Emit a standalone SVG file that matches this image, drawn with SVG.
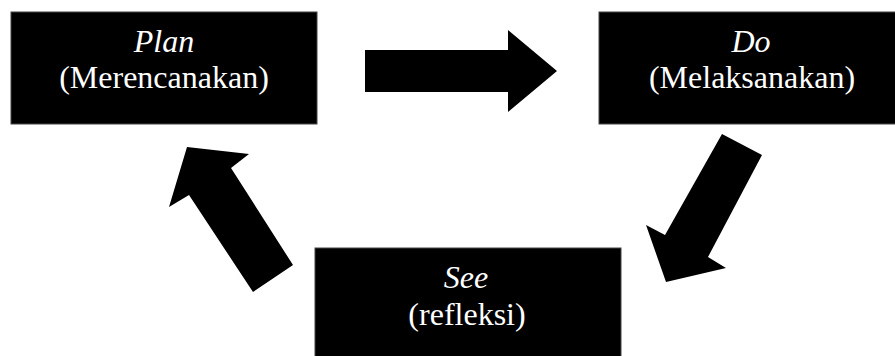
<svg xmlns="http://www.w3.org/2000/svg" width="895" height="356" viewBox="0 0 895 356">
  <style>
    .box { fill: #000; stroke: #444; stroke-width: 1; }
    .label { font-family: "Liberation Serif", "Noto Serif", "FreeSerif", "DejaVu Serif", Georgia, serif; font-size: 32px; fill: #fff; text-anchor: middle; }
    .it { font-style: italic; }
    .arrow { fill: #000; }
  </style>
  <rect width="895" height="356" fill="#fff"/>

  <g id="connectors">
    <!-- Plan to Do -->
    <polygon class="arrow" points="365,50 508,50 508,30 557,71 508,112 508,92 365,92"/>
    <!-- Do to See -->
    <polygon class="arrow" points="722,134 762,155 708,257 726,268 666,282 646,225 665,235"/>
    <!-- See to Plan -->
    <polygon class="arrow" points="187,147 249,154 231,168 293,265 253,292 189,195 169,207"/>
  </g>

  <g id="plan">
    <rect class="box" x="11" y="12" width="306" height="112"/>
    <text class="label it" x="164" y="52">Plan</text>
    <text class="label" x="164" y="88">(Merencanakan)</text>
  </g>

  <g id="do">
    <rect class="box" x="599" y="12" width="306" height="112"/>
    <text class="label it" x="751" y="52">Do</text>
    <text class="label" x="752" y="88">(Melaksanakan)</text>
  </g>

  <g id="see">
    <rect class="box" x="315" y="248" width="306" height="112"/>
    <text class="label it" x="466" y="288">See</text>
    <text class="label" x="467" y="325">(refleksi)</text>
  </g>
</svg>
